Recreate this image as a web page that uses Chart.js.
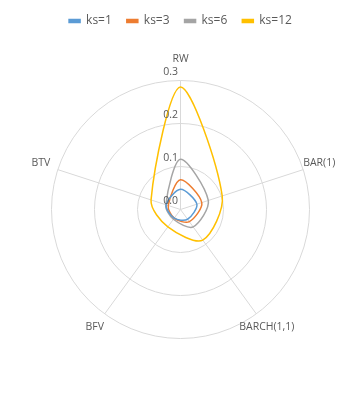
<!DOCTYPE html>
<html>
<head>
<meta charset="utf-8">
<script src="https://cdn.jsdelivr.net/npm/chart.js@4/dist/chart.umd.min.js"></script>
<style>
html,body{margin:0;padding:0;background:#fff;}
#wrap{width:361px;height:393px;position:relative;}
</style>
</head>
<body>
<div id="wrap"><canvas id="c" width="361" height="393"></canvas></div>
<script>
const categories = ['RW', 'BAR(1)', 'BARCH(1,1)', 'BFV', 'BTV'];
const seriesNames = ['ks=1', 'ks=3', 'ks=6', 'ks=12'];
const ks1 = [0.047, 0.040, 0.028, 0.025, 0.035];
const ks3 = [0.069, 0.052, 0.035, 0.025, 0.030];
const ks6 = [0.117, 0.068, 0.050, 0.028, 0.036];
const ks12 = [0.285, 0.102, 0.088, 0.050, 0.072];
const tickValues = [0, 0.1, 0.2, 0.3];
const tickLabels = ['0.0', '0.1', '0.2', '0.3'];
const colors = ['#5B9BD5', '#ED7D31', '#A5A5A5', '#FFC000'];

const seriesValues = [ks1, ks3, ks6, ks12];

const FONT = '"Open Sans", "Liberation Sans", sans-serif';

// per-category label placement relative to the axis end (style only)
const labelPlace = [
  { align: 'center', dx: 0, dy: -21 },
  { align: 'left', dx: 0, dy: -7 },
  { align: 'center', dx: 10.5, dy: 13 },
  { align: 'center', dx: -10, dy: 13 },
  { align: 'right', dx: -7.5, dy: -7 }
];

const labelPlugin = {
  id: 'customLabels',
  afterDraw(chart) {
    const s = chart.scales.r;
    const ctx = chart.ctx;
    ctx.save();
    ctx.fillStyle = '#595959';
    ctx.textBaseline = 'middle';
    ctx.font = '10.5px ' + FONT;
    ctx.textAlign = 'right';
    tickValues.forEach((v, i) => {
      const d = s.getDistanceFromCenterForValue(v);
      ctx.fillText(tickLabels[i], s.xCenter - 2.5, s.yCenter - d - 8.5);
    });
    categories.forEach((lab, i) => {
      const p = s.getPointPosition(i, s.drawingArea);
      const pl = labelPlace[i];
      ctx.textAlign = pl.align;
      ctx.fillText(lab, p.x + pl.dx, p.y + pl.dy);
    });
    ctx.restore();
  }
};

new Chart(document.getElementById('c'), {
  type: 'radar',
  data: {
    labels: categories,
    datasets: seriesValues.map((vals, i) => ({
      label: seriesNames[i],
      data: vals,
      borderColor: colors[i],
      backgroundColor: colors[i],
      borderWidth: 1.5,
      fill: false,
      pointRadius: 0,
      tension: 0.3
    }))
  },
  options: {
    responsive: false,
    animation: false,
    plugins: {
      legend: {
        position: 'top',
        labels: {
          boxWidth: 11,
          boxHeight: 3,
          padding: 15,
          color: '#595959',
          font: { size: 12, family: FONT }
        }
      },
      tooltip: { enabled: false }
    },
    scales: {
      r: {
        min: 0,
        max: 0.3,
        ticks: { stepSize: 0.1, display: false },
        grid: { color: '#d9d9d9', circular: true, lineWidth: 1 },
        angleLines: { color: '#d9d9d9', lineWidth: 1 },
        pointLabels: { display: false },
        afterFit(scale) {
          scale.xCenter = 180.5;
          scale.yCenter = 209.5;
          scale.drawingArea = 129;
        }
      }
    }
  },
  plugins: [labelPlugin]
});
</script>
</body>
</html>
